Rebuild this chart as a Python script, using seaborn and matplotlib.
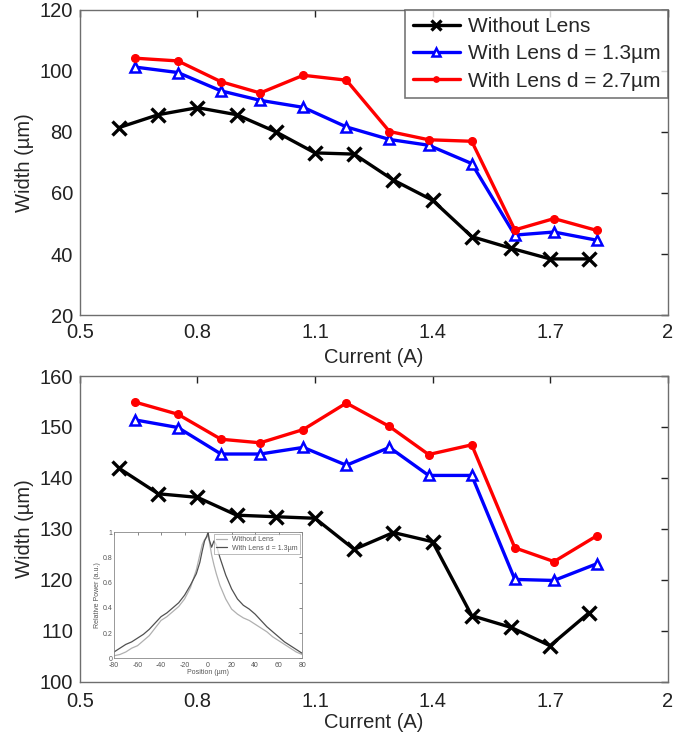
import matplotlib
matplotlib.use("Agg")
import matplotlib.pyplot as plt
import seaborn as sns
import numpy as np

# ---- measured beam widths vs. drive current ----
current_bare = [0.6, 0.7, 0.8, 0.9, 1.0, 1.1, 1.2, 1.3, 1.4, 1.5, 1.6, 1.7, 1.8]
current_lens = [0.64, 0.75, 0.86, 0.96, 1.07, 1.18, 1.29, 1.39, 1.50, 1.61, 1.71, 1.82]

# top panel
top_bare = [81.4, 85.6, 87.9, 85.6, 80.0, 73.1, 72.7, 64.2, 57.6, 45.7, 41.9, 38.4, 38.4]
top_lens13 = [101.2, 99.4, 93.4, 90.3, 88.0, 81.6, 77.5, 75.6, 69.6, 46.2, 47.2, 44.5]
top_lens27 = [104.1, 103.2, 96.4, 92.7, 98.5, 96.9, 80.1, 77.4, 76.9, 47.9, 51.6, 47.7]

# bottom panel
bot_bare = [141.9, 136.9, 136.2, 132.7, 132.4, 132.1, 126.0, 129.3, 127.5, 113.0, 110.7, 107.1, 113.6]
bot_lens13 = [151.4, 149.9, 144.7, 144.7, 146.0, 142.5, 146.0, 140.5, 140.5, 120.1, 119.9, 123.2]
bot_lens27 = [154.9, 152.5, 147.6, 146.9, 149.5, 154.7, 150.1, 144.6, 146.5, 126.3, 123.6, 128.7]

# inset: normalized lateral power profiles
pos = [-80, -75, -70, -65, -60, -55, -50, -45, -40, -35, -30, -25, -20, -15, -10, -7, -5, -3,
       -1, 0, 1, 3, 5, 7, 10, 15, 20, 25, 30, 35, 40, 45, 50, 55, 60, 65, 70, 75, 80]
prof_bare = [0.02, 0.03, 0.05, 0.08, 0.10, 0.14, 0.18, 0.24, 0.30, 0.33, 0.37, 0.41, 0.47, 0.56, 0.70,
             0.82, 0.90, 0.94, 0.96, 0.98, 0.93, 0.82, 0.74, 0.67, 0.58, 0.47, 0.39, 0.35, 0.32,
             0.30, 0.27, 0.24, 0.21, 0.17, 0.14, 0.11, 0.08, 0.05, 0.03]
prof_lens = [0.05, 0.08, 0.11, 0.13, 0.16, 0.19, 0.23, 0.28, 0.33, 0.36, 0.40, 0.44, 0.50, 0.58, 0.67,
             0.76, 0.85, 0.93, 0.97, 1.00, 0.94, 0.88, 0.93, 0.90, 0.80, 0.66, 0.55, 0.47, 0.42,
             0.39, 0.35, 0.30, 0.25, 0.21, 0.17, 0.13, 0.10, 0.07, 0.04]

labels = ["Without Lens", "With Lens d = 1.3\u00b5m", "With Lens d = 2.7\u00b5m"]
x_ticks = [0.5, 0.8, 1.1, 1.4, 1.7, 2.0]
x_ticklabels = ["0.5", "0.8", "1.1", "1.4", "1.7", "2"]

sns.set_style("white")
plt.rcParams["font.family"] = ["Liberation Sans", "DejaVu Sans"]
plt.rcParams["axes.edgecolor"] = "#6e6e6e"
plt.rcParams["axes.linewidth"] = 1.0
plt.rcParams["axes.unicode_minus"] = False

fig = plt.figure(figsize=(6.89, 7.38), dpi=100)
ax_top = fig.add_axes([0.116, 0.573, 0.853, 0.414])
ax_bot = fig.add_axes([0.116, 0.076, 0.853, 0.4145])


def draw_panel(ax, bare, l13, l27):
    sns.lineplot(x=current_bare, y=bare, ax=ax, color="black", linewidth=2.4,
                 marker="x", markersize=10, markeredgewidth=2.4, markeredgecolor="black",
                 label=labels[0])
    sns.lineplot(x=current_lens, y=l13, ax=ax, color="#0000ff", linewidth=2.4,
                 marker="^", markersize=7.5, markeredgewidth=1.8, markeredgecolor="#0000ff",
                 markerfacecolor="white", label=labels[1])
    sns.lineplot(x=current_lens, y=l27, ax=ax, color="#ff0000", linewidth=2.4,
                 marker="o", markersize=5.5, markeredgewidth=1.0, markeredgecolor="#ff0000",
                 markerfacecolor="#ff0000", label=labels[2])
    ax.set_xlim(0.5, 2.0)
    ax.set_xticks(x_ticks)
    ax.set_xticklabels(x_ticklabels)
    ax.set_xlabel("Current (A)", fontsize=14.5, labelpad=4)
    ax.set_ylabel("Width (\u00b5m)", fontsize=14.5, labelpad=4)
    ax.tick_params(direction="in", length=5, width=1, colors="#222222", labelsize=14.5,
                   top=True, right=True, pad=6)
    ax.tick_params(axis="y", pad=5)
    for s in ax.spines.values():
        s.set_visible(True)


draw_panel(ax_top, top_bare, top_lens13, top_lens27)
ax_top.set_ylim(20, 120)
ax_top.set_yticks([20, 40, 60, 80, 100, 120])
leg = ax_top.legend(loc="upper right", borderaxespad=0, fontsize=15, frameon=True,
                    fancybox=False, edgecolor="#555555", handlelength=2.3,
                    handletextpad=0.35, borderpad=0.35, labelspacing=0.4, markerscale=0.7)
leg.get_frame().set_linewidth(1.2)

draw_panel(ax_bot, bot_bare, bot_lens13, bot_lens27)
ax_bot.set_ylim(100, 160)
ax_bot.set_yticks([100, 110, 120, 130, 140, 150, 160])
ax_bot.tick_params(axis="x", pad=7)
ax_bot.xaxis.labelpad = 2
ax_bot.get_legend().remove()

# inset with the lateral profiles
ax_in = fig.add_axes([0.1655, 0.108, 0.273, 0.171])
sns.lineplot(x=pos, y=prof_bare, ax=ax_in, color="#b0b0b0", linewidth=0.9, label="Without Lens")
sns.lineplot(x=pos, y=prof_lens, ax=ax_in, color="#505050", linewidth=0.9,
             label="With Lens d = 1.3\u00b5m")
ax_in.set_xlim(-80, 80)
ax_in.set_ylim(0, 1)
ax_in.set_xticks(np.arange(-80, 81, 20))
ax_in.set_yticks([0, 0.2, 0.4, 0.6, 0.8, 1])
ax_in.set_yticklabels(["0", "0.2", "0.4", "0.6", "0.8", "1"])
ax_in.tick_params(direction="in", length=2, width=0.5, labelsize=5, colors="#555555",
                  top=True, right=True, pad=1)
ax_in.tick_params(axis="x", pad=3)
ax_in.set_xlabel("Position (\u00b5m)", fontsize=5, labelpad=0, color="#555555")
ax_in.set_ylabel("Relative Power (a.u.)", fontsize=5, labelpad=1, color="#555555")
for s in ax_in.spines.values():
    s.set_visible(True)
    s.set_linewidth(0.6)
    s.set_color("#888888")
lin = ax_in.legend(loc="upper right", fontsize=5, frameon=True, fancybox=False,
                   edgecolor="#888888", borderaxespad=0.3, handlelength=1.5,
                   borderpad=0.3, labelspacing=0.2)
lin.get_frame().set_linewidth(0.5)
for t in lin.get_texts():
    t.set_color("#555555")

fig.savefig("out.png", dpi=100, facecolor="white")
